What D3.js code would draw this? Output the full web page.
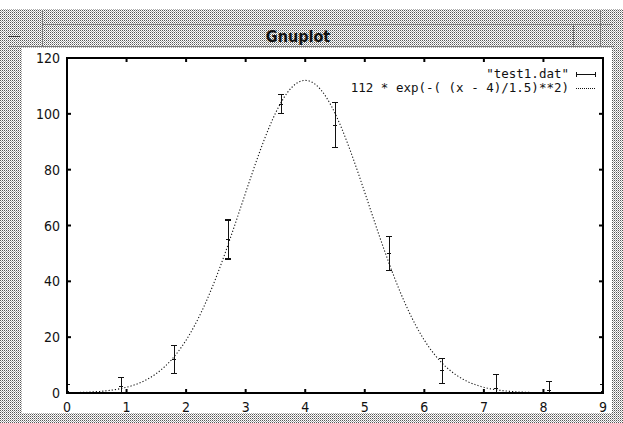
<!DOCTYPE html>
<html>
<head>
<meta charset="utf-8">
<script src="https://cdn.jsdelivr.net/npm/d3@7"></script>
<style>
  body { margin: 0; background: #fff; }
  svg { display: block; }
</style>
</head>
<body>
<svg id="chart" width="623" height="423"></svg>
<script>
// measured points from test1.dat (x, y, y error)
const xs   = [0, 0.9, 1.8, 2.7, 3.6, 4.5, 5.4, 6.3, 7.2, 8.1, 9.0];
const ys   = [0.5, 2.5, 12, 55, 103.5, 96, 50, 8, 1.5, 1, 0.5];
const errs = [2.5, 3, 5, 7, 3.5, 8, 6, 4.5, 5, 3, 2.5];

// fitted function shown in the key
const amp = 112, center = 4, width = 1.5;
const fitLabel = "112 * exp(-( (x - 4)/1.5)**2)";
const dataLabel = "\"test1.dat\"";

const xTicks = [0, 1, 2, 3, 4, 5, 6, 7, 8, 9];
const yTicks = [0, 20, 40, 60, 80, 100, 120];

const svg = d3.select("#chart");

// stipple pattern for the window frame
const defs = svg.append("defs");
const pat = defs.append("pattern")
  .attr("id", "stip")
  .attr("width", 2).attr("height", 2)
  .attr("patternUnits", "userSpaceOnUse");
pat.append("rect").attr("width", 2).attr("height", 2).attr("fill", "#fff");
pat.append("rect").attr("width", 1).attr("height", 1).attr("fill", "#555");
pat.append("rect").attr("x", 1).attr("y", 1).attr("width", 1).attr("height", 1).attr("fill", "#aaa");

// window frame
svg.append("rect").attr("x", 0).attr("y", 9).attr("width", 623).attr("height", 414)
  .attr("fill", "url(#stip)");
// title bar lines
const bar = svg.append("g").attr("stroke", "#777").attr("stroke-width", 1).attr("shape-rendering", "crispEdges");
bar.append("line").attr("x1", 42).attr("x2", 612).attr("y1", 24.5).attr("y2", 24.5);
bar.append("line").attr("x1", 8).attr("x2", 615).attr("y1", 46.5).attr("y2", 46.5);
bar.append("line").attr("x1", 42.5).attr("x2", 42.5).attr("y1", 10).attr("y2", 46);
bar.append("line").attr("x1", 573.5).attr("x2", 573.5).attr("y1", 24).attr("y2", 46);
bar.append("line").attr("x1", 600.5).attr("x2", 600.5).attr("y1", 10).attr("y2", 46);
bar.append("line").attr("x1", 8).attr("x2", 20).attr("y1", 36.5).attr("y2", 36.5).attr("stroke", "#333");

svg.append("text")
  .attr("x", 298).attr("y", 42)
  .attr("text-anchor", "middle")
  .attr("font-family", "'DejaVu Sans Condensed', 'DejaVu Sans', sans-serif")
  .attr("font-weight", "bold")
  .attr("font-size", 16)
  .attr("fill", "#111")
  .text("Gnuplot");

// inner canvas
svg.append("rect").attr("x", 22).attr("y", 48).attr("width", 590).attr("height", 365)
  .attr("fill", "#fff");

const margin = { left: 67, right: 603, top: 58, bottom: 393 };

const x = d3.scaleLinear().domain([0, 9]).range([margin.left, margin.right]);
const y = d3.scaleLinear().domain([0, 120]).range([margin.bottom, margin.top]);

const plot = svg.append("g");

// clip for the data
defs.append("clipPath").attr("id", "clip")
  .append("rect")
  .attr("x", margin.left).attr("y", margin.top)
  .attr("width", margin.right - margin.left)
  .attr("height", margin.bottom - margin.top);

// fitted curve, dotted
const fit = d3.range(0, 9.0001, 0.05).map(v => [v, amp * Math.exp(-Math.pow((v - center) / width, 2))]);
const line = d3.line().x(d => x(d[0])).y(d => y(d[1]));
plot.append("path")
  .datum(fit)
  .attr("clip-path", "url(#clip)")
  .attr("fill", "none")
  .attr("stroke", "#111")
  .attr("stroke-width", 1.1)
  .attr("stroke-dasharray", "1.2,2")
  .attr("d", line);

// error bars
const pts = xs.map((v, i) => ({ x: v, y: ys[i], e: errs[i] }));
const eb = plot.append("g")
  .attr("clip-path", "url(#clip)")
  .attr("stroke", "#111")
  .attr("stroke-width", 1.2)
  .attr("shape-rendering", "crispEdges");
eb.selectAll(".bar").data(pts).enter().append("line")
  .attr("x1", d => Math.round(x(d.x)) + 0.5).attr("x2", d => Math.round(x(d.x)) + 0.5)
  .attr("y1", d => y(d.y - d.e)).attr("y2", d => y(d.y + d.e));
eb.selectAll(".capT").data(pts).enter().append("line")
  .attr("x1", d => x(d.x) - 3).attr("x2", d => x(d.x) + 3)
  .attr("y1", d => y(d.y + d.e)).attr("y2", d => y(d.y + d.e));
eb.selectAll(".capB").data(pts).enter().append("line")
  .attr("x1", d => x(d.x) - 3).attr("x2", d => x(d.x) + 3)
  .attr("y1", d => y(d.y - d.e)).attr("y2", d => y(d.y - d.e));
eb.selectAll(".pt").data(pts).enter().append("path")
  .attr("fill", "none")
  .attr("stroke-width", 1)
  .attr("d", d => {
    const cx = x(d.x), cy = y(d.y);
    return `M${cx - 2},${cy}L${cx + 2},${cy}`;
  });

// frame
svg.append("rect")
  .attr("x", margin.left).attr("y", margin.top)
  .attr("width", margin.right - margin.left)
  .attr("height", margin.bottom - margin.top)
  .attr("fill", "none")
  .attr("stroke", "#000")
  .attr("stroke-width", 2);

// ticks on all four sides (inward)
const tickLen = 4;
const axisFont = "'DejaVu Sans Condensed', 'Liberation Sans', sans-serif";
const ax = svg.append("g").attr("stroke", "#000").attr("stroke-width", 2);
xTicks.forEach(t => {
  ax.append("line").attr("x1", x(t)).attr("x2", x(t)).attr("y1", margin.bottom).attr("y2", margin.bottom - tickLen);
  ax.append("line").attr("x1", x(t)).attr("x2", x(t)).attr("y1", margin.top).attr("y2", margin.top + tickLen);
});
yTicks.forEach(t => {
  ax.append("line").attr("x1", margin.left).attr("x2", margin.left + tickLen).attr("y1", y(t)).attr("y2", y(t));
  ax.append("line").attr("x1", margin.right).attr("x2", margin.right - tickLen).attr("y1", y(t)).attr("y2", y(t));
});

svg.append("g").selectAll("text").data(xTicks).enter().append("text")
  .attr("x", d => x(d)).attr("y", margin.bottom + 19)
  .attr("text-anchor", "middle")
  .attr("font-family", axisFont).attr("font-size", 14).attr("fill", "#111")
  .text(d => d);
svg.append("g").selectAll("text").data(yTicks).enter().append("text")
  .attr("x", margin.left - 7).attr("y", d => y(d) + 5)
  .attr("text-anchor", "end")
  .attr("font-family", axisFont).attr("font-size", 14).attr("fill", "#111")
  .text(d => d);

// key
const keyFont = "'DejaVu Sans Mono', monospace";
const key = svg.append("g");
key.append("text").attr("x", 569).attr("y", 78).attr("text-anchor", "end")
  .attr("font-family", keyFont).attr("font-size", 12.5).attr("fill", "#111").text(dataLabel);
key.append("text").attr("x", 569).attr("y", 92).attr("text-anchor", "end")
  .attr("font-family", keyFont).attr("font-size", 12.5).attr("fill", "#111").text(fitLabel);
const ks = key.append("g").attr("stroke", "#111").attr("stroke-width", 1).attr("shape-rendering", "crispEdges");
ks.append("line").attr("x1", 576).attr("x2", 596).attr("y1", 74.5).attr("y2", 74.5);
ks.append("line").attr("x1", 576.5).attr("x2", 576.5).attr("y1", 72).attr("y2", 77);
ks.append("line").attr("x1", 595.5).attr("x2", 595.5).attr("y1", 72).attr("y2", 77);
ks.append("line").attr("x1", 576).attr("x2", 596).attr("y1", 88.5).attr("y2", 88.5)
  .attr("stroke-dasharray", "1,1");
</script>
</body>
</html>
